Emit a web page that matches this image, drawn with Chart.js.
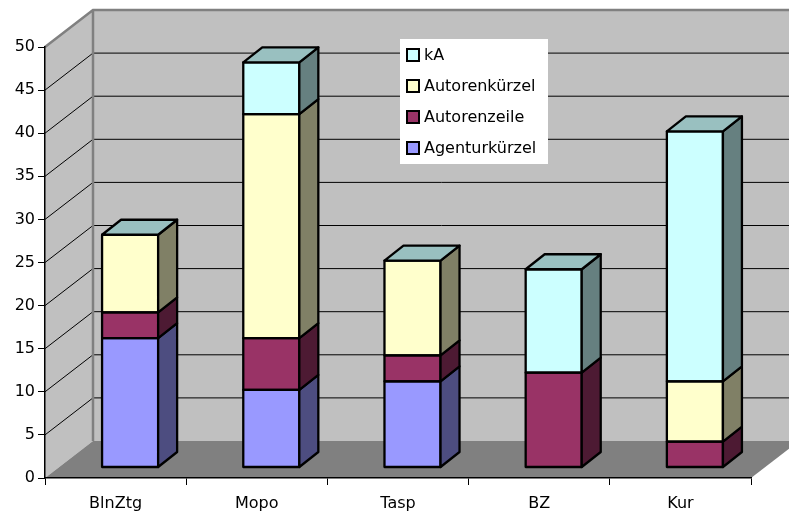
<!DOCTYPE html>
<html>
<head>
<meta charset="utf-8">
<title>Chart</title>
<script src="https://cdn.jsdelivr.net/npm/chart.js@4"></script>
<style>
    body { margin: 0; background: #fff; }
    canvas { display: block; }
</style>
</head>
<body>
<canvas id="chart" width="789" height="513"></canvas>
<script>
const categories = ['BlnZtg', 'Mopo', 'Tasp', 'BZ', 'Kur'];
const seriesNames = ['Agenturkürzel', 'Autorenzeile', 'Autorenkürzel', 'kA'];
const agenturkuerzel = [15, 9, 10, 0, 0];
const autorenzeile = [3, 6, 3, 11, 3];
const autorenkuerzel = [9, 26, 11, 0, 7];
const kA = [0, 6, 0, 12, 29];

const fillColors = ['#9999ff', '#993366', '#ffffcc', '#ccffff'];
const sideColors = ['#4d4d80', '#4d1a33', '#808066', '#668080'];
const topColor = '#99c0c0';
const font = '"DejaVu Sans", sans-serif';

// depth of the box and of the bars inside it
const wallDepth = { x: 48, y: -37 };
const barShift = { x: 14.5, y: -10.5 };
const barDepth = { x: 19, y: -15 };
const edge = 2.3;

const allSeries = [agenturkuerzel, autorenzeile, autorenkuerzel, kA];

function poly(ctx, points, fill, stroke, width) {
    ctx.beginPath();
    points.forEach((p, i) => i ? ctx.lineTo(p[0], p[1]) : ctx.moveTo(p[0], p[1]));
    ctx.closePath();
    if (fill) {
        ctx.fillStyle = fill;
        ctx.fill();
    }
    if (stroke) {
        ctx.strokeStyle = stroke;
        ctx.lineWidth = width;
        ctx.stroke();
    }
}

// walls and floor behind the axes
const boxPlugin = {
    id: 'box',
    beforeDraw(chart) {
        const { ctx, chartArea: a, scales } = chart;
        const dx = wallDepth.x, dy = wallDepth.y;
        ctx.save();
        poly(ctx, [[a.left + dx, a.top + dy], [a.right + dx, a.top + dy], [a.right + dx, a.bottom + dy], [a.left + dx, a.bottom + dy]], '#c0c0c0');
        poly(ctx, [[a.left, a.top], [a.left + dx, a.top + dy], [a.left + dx, a.bottom + dy], [a.left, a.bottom]], '#c0c0c0');
        poly(ctx, [[a.left, a.bottom], [a.left + dx, a.bottom + dy], [a.right + dx, a.bottom + dy], [a.right, a.bottom]], '#808080');

        ctx.strokeStyle = '#000';
        ctx.lineWidth = 1;
        scales.y.ticks.forEach((t, i) => {
            if (t.value === 0 || t.value === scales.y.max) return;
            const y = scales.y.getPixelForTick(i);
            ctx.beginPath();
            ctx.moveTo(a.left, y);
            ctx.lineTo(a.left + dx, y + dy);
            ctx.lineTo(a.right + dx, y + dy);
            ctx.stroke();
        });

        ctx.strokeStyle = '#808080';
        ctx.lineWidth = 2.5;
        ctx.beginPath();
        ctx.moveTo(a.left, a.top);
        ctx.lineTo(a.left + dx, a.top + dy);
        ctx.lineTo(a.right + dx, a.top + dy);
        ctx.moveTo(a.left + dx, a.top + dy);
        ctx.lineTo(a.left + dx, a.bottom + dy);
        ctx.stroke();
        ctx.restore();
    }
};

// moves the bars off the front plane, adds side and top faces and the outlines
const barsPlugin = {
    id: 'bars3d',
    beforeDatasetsDraw(chart) {
        chart.ctx.save();
        chart.ctx.translate(barShift.x, barShift.y);
    },
    afterDatasetsDraw(chart) {
        const ctx = chart.ctx;
        const dx = barDepth.x, dy = barDepth.y;
        ctx.lineJoin = 'round';
        allSeries.forEach((values, d) => {
            chart.getDatasetMeta(d).data.forEach((bar, i) => {
                const right = bar.x + bar.width / 2;
                const left = bar.x - bar.width / 2;
                if (values[i] > 0) {
                    poly(ctx, [[left, bar.base], [right, bar.base], [right, bar.y], [left, bar.y]], null, '#000', edge);
                    poly(ctx, [[right, bar.base], [right + dx, bar.base + dy], [right + dx, bar.y + dy], [right, bar.y]], sideColors[d], '#000', edge);
                }
                if (d === allSeries.length - 1) {
                    poly(ctx, [[left, bar.y], [left + dx, bar.y + dy], [right + dx, bar.y + dy], [right, bar.y]], topColor, '#000', edge);
                }
            });
        });
        ctx.restore();
    }
};

// legend box sits inside the plot, top entry is the last series
const legendPlugin = {
    id: 'boxLegend',
    afterDraw(chart) {
        const ctx = chart.ctx;
        const x = 400, y = 39, w = 148, h = 125, rowH = 31;
        ctx.save();
        ctx.fillStyle = '#fff';
        ctx.fillRect(x, y, w, h);
        ctx.font = '16px ' + font;
        ctx.textBaseline = 'middle';
        ctx.textAlign = 'left';
        seriesNames.slice().reverse().forEach((name, i) => {
            const color = fillColors[seriesNames.length - 1 - i];
            const cy = y + 16 + i * rowH;
            ctx.fillStyle = '#000';
            ctx.fillRect(x + 6, cy - 7, 14, 14);
            ctx.fillStyle = color;
            ctx.fillRect(x + 8, cy - 5, 10, 10);
            ctx.fillStyle = '#000';
            ctx.fillText(name, x + 24, cy + 1);
        });
        ctx.restore();
    }
};

new Chart(document.getElementById('chart'), {
    type: 'bar',
    data: {
        labels: categories,
        datasets: allSeries.map((values, d) => ({
            label: seriesNames[d],
            data: values,
            backgroundColor: fillColors[d],
            borderWidth: 0
        }))
    },
    options: {
        responsive: false,
        animation: false,
        barPercentage: 0.397,
        categoryPercentage: 1,
        layout: { padding: { top: 47, right: 38, left: 0, bottom: 0 } },
        plugins: { legend: { display: false }, tooltip: { enabled: false } },
        scales: {
            x: {
                stacked: true,
                afterFit: function (scale) { scale.height = 35; },
                border: { color: '#000', width: 1.5 },
                grid: { drawOnChartArea: false, color: '#000', tickLength: 7 },
                ticks: { color: '#000', font: { family: font, size: 16 }, padding: 9, maxRotation: 0 }
            },
            y: {
                stacked: true,
                min: 0,
                max: 50,
                afterFit: function (scale) { scale.width = 45; },
                border: { color: '#000', width: 1.5 },
                grid: { drawOnChartArea: false, color: '#000', tickLength: 7 },
                ticks: { stepSize: 5, color: '#000', font: { family: font, size: 16 }, padding: 3 }
            }
        }
    },
    plugins: [boxPlugin, barsPlugin, legendPlugin]
});
</script>
</body>
</html>
